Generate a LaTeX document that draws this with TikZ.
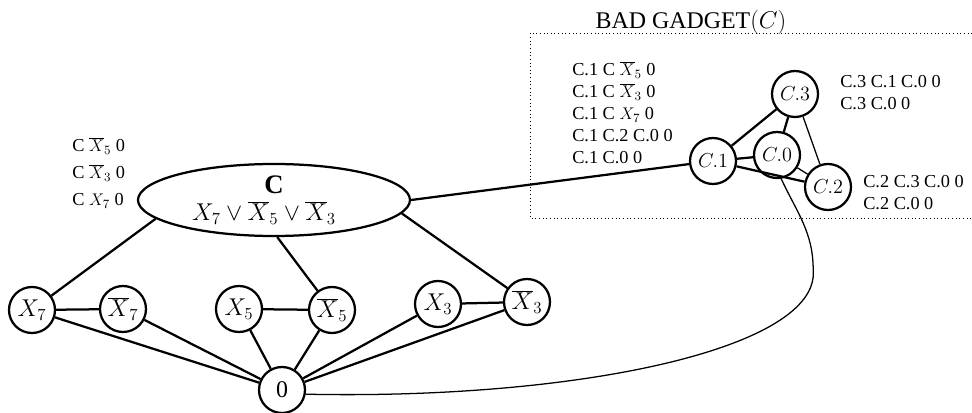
\documentclass[tikz,border=0pt]{standalone}
\usepackage{fontspec}
\setmainfont{Liberation Serif}
\usetikzlibrary{shapes.geometric}
\begin{document}
\begin{tikzpicture}[
    vertex/.style={circle,draw,line width=1.6pt,minimum size=1.15cm,inner sep=0pt,font=\fontsize{17}{17}\selectfont},
    gvertex/.style={vertex,font=\fontsize{14}{14}\selectfont},
    clause/.style={ellipse,draw,line width=1.6pt,minimum width=6.8cm,minimum height=1.8cm,inner sep=0pt,align=center,font=\fontsize{17}{19}\selectfont},
    paths/.style={align=left,anchor=north west,inner sep=0pt,font=\fontsize{13}{15.6}\selectfont},
    thickedge/.style={line width=1.6pt},
    thinedge/.style={line width=0.9pt}]
  \useasboundingbox (0,0) rectangle (24.3,10.3);
  \draw
    (6.85,5.30) node[clause] (cl){{\fontsize{19}{19}\selectfont\textbf{C}}\\$X_7\vee\overline{X}_5\vee\overline{X}_3$\hspace*{0.5cm}}
    (0.80,2.55) node[vertex] (x7){$X_7$}
    (3.075,2.575) node[vertex] (nx7){$\overline{X}_7$}
    (5.975,2.575) node[vertex] (x5){$X_5$}
    (8.30,2.55) node[vertex] (nx5){$\overline{X}_5$}
    (10.95,2.70) node[vertex] (x3){$X_3$}
    (13.175,2.75) node[vertex] (nx3){$\overline{X}_3$}
    (7.05,0.55) node[vertex] (zero){0}
    (17.825,6.275) node[gvertex] (c1){$C.1$}
    (19.425,6.425) node[gvertex] (c0){$C.0$}
    (19.875,7.95) node[gvertex] (c3){$C.3$}
    (20.70,5.625) node[gvertex] (c2){$C.2$};
  \coordinate (bend) at (20.33,3.55);
  % permitted paths
  \node[paths,font=\fontsize{13}{19.2}\selectfont] (cpaths) at (1.8,6.875)
    {C $\overline{X}_5$ 0\\C $\overline{X}_3$ 0\\C $X_7$ 0};
  \node[paths] (c1paths) at (14.3,8.775)
    {C.1 C $\overline{X}_5$ 0\\C.1 C $\overline{X}_3$ 0\\C.1 C $X_7$ 0\\C.1 C.2 C.0 0\\C.1 C.0 0};
  \node[paths] (c3paths) at (21.0,8.425) {C.3 C.1 C.0 0\\C.3 C.0 0};
  \node[paths] (c2paths) at (21.575,5.925) {C.2 C.3 C.0 0\\C.2 C.0 0};
  % gadget box
  \node[font=\fontsize{17}{17}\selectfont] (title) at (17.275,9.75) {BAD GADGET$(C)$};
  \draw[dotted,line width=0.6pt] (24.3,9.475) -| (13.25,4.85) -- (24.3,4.85);
  \begin{scope}[thickedge]
    \draw (cl.189) to (x7);
    \draw (cl.275) to (nx5);
    \draw (cl.354) to (nx3);
    \draw (cl.east) to (c1);
    \draw (x7) to (nx7);
    \draw (x5) to (nx5);
    \draw (x3) to (nx3);
    \draw (zero) to (x7);
    \draw (zero) to (nx7);
    \draw (zero) to (x5);
    \draw (zero) to (nx5);
    \draw (zero) to (x3);
    \draw (zero) to (nx3);
    \draw (c1) to (c3);
    \draw (c1) to (c0);
    \draw (c1) to (c2);
    \draw (c3) to (c0);
  \end{scope}
  \begin{scope}[thinedge]
    \draw (c3) to (c2);
    \draw (c0) to (c2);
    \draw (zero.-10) .. controls (14.5,0.3) and (20.5,1.6) .. (bend)
      to[out=90,in=-65] (c0.-80);
  \end{scope}
\end{tikzpicture}
\end{document}
